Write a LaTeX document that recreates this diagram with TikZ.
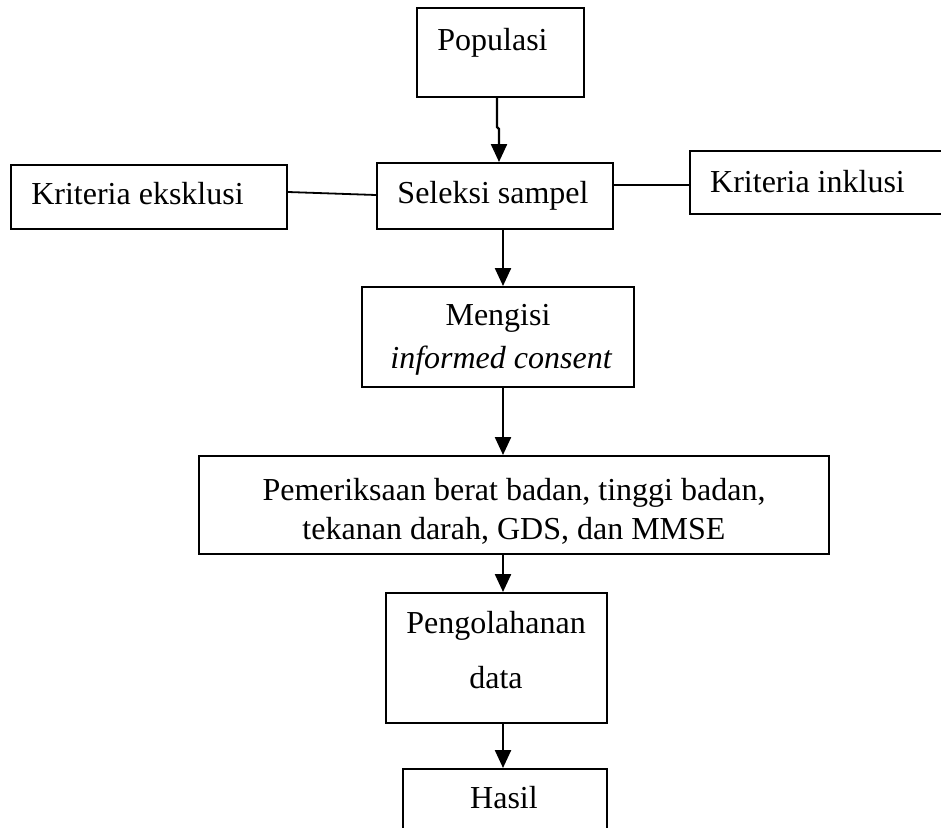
\documentclass[tikz,border=0pt]{standalone}
\usepackage{fontspec}
\setmainfont{Liberation Serif}
\usetikzlibrary{arrows.meta}
\begin{document}
\begin{tikzpicture}[x=1pt,y=-1pt,
  box/.style 2 args={draw, line width=2pt, inner sep=0pt, minimum width=#1, minimum height=#2},
  txt/.style={anchor=base, inner sep=0pt, font=\fontsize{32}{38}\selectfont},
  arr/.style={line width=2.4pt, -{Triangle[width=16pt,length=18pt]}},
  link/.style={line width=1.8pt}]
\useasboundingbox (0,0) rectangle (941,827);
\clip (0,0) rectangle (941,827);
% boxes
\node[box={167pt}{89pt}] (pop) at (500.5,52.5) {};
\node[box={236pt}{66pt}] (sel) at (495,196) {};
\node[box={276pt}{64pt}] (eks) at (149,197) {};
\node[box={270pt}{63pt}] (ink) at (825,182.5) {};
\node[box={272pt}{100pt}] (men) at (498,337) {};
\node[box={630pt}{98pt}] (pem) at (514,505) {};
\node[box={221pt}{130pt}] (pen) at (496.5,658) {};
\node[box={204pt}{91pt}] (has) at (505,814.5) {};
% texts
\node[txt] (tpop) at (492.5,50) {Populasi};
\node[txt] (tsel) at (493,203) {Seleksi sampel};
\node[txt] (teks) at (137.5,204) {Kriteria eksklusi};
\node[txt] (tink) at (807.5,192) {Kriteria inklusi};
\node[txt] (tmen1) at (498,325) {Mengisi};
\node[txt] (tmen2) at (501,368) {\itshape informed consent};
\node[txt] (tpem1) at (514,500) {Pemeriksaan berat badan, tinggi badan,};
\node[txt] (tpem2) at (514,539) {tekanan darah, GDS, dan MMSE};
\node[txt] (tpen1) at (496,633) {Pengolahanan};
\node[txt] (tpen2) at (496,688) {data};
\node[txt] (thas) at (504,808) {Hasil};
% connectors
\coordinate (k1) at (497,127);
\coordinate (k2) at (499,129);
\coordinate (ax) at (503,0);
\draw[arr] (pop.south -| k1) -- (k1) -- (k2) -- (sel.north -| k2);
\draw[arr] (sel.south -| ax) -- (men.north -| ax);
\draw[arr] (men.south -| ax) -- (pem.north -| ax);
\draw[arr] (pem.south -| ax) -- (pen.north -| ax);
\draw[arr] (pen.south -| ax) -- (has.north -| ax);
\draw[link] ([yshift=5pt]eks.east) -- ([yshift=1pt]sel.west);
\draw[link] ([yshift=11pt]sel.east) -- ([yshift=-2.5pt]ink.west);
\end{tikzpicture}
\end{document}
